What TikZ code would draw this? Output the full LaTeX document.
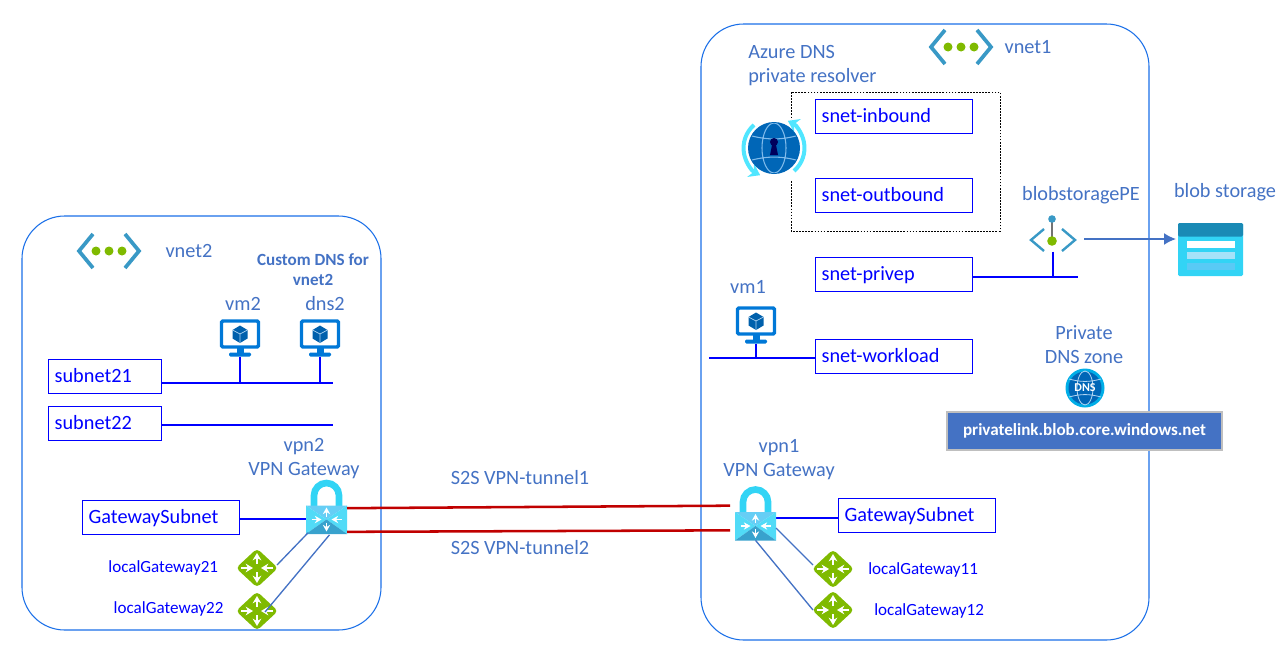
\documentclass[tikz,border=0pt]{standalone}
\usepackage{fontspec}
\setmainfont{Carlito}
\usetikzlibrary{arrows.meta,calc,positioning}
\definecolor{txtblue}{HTML}{4472C4}
\definecolor{netblue}{HTML}{1A6FE8}
\definecolor{subblue}{HTML}{0000FF}
\definecolor{tunred}{HTML}{C00000}
\definecolor{vnetcyan}{HTML}{3999C6}
\definecolor{leaf}{HTML}{7FBA00}
\definecolor{vmblue}{HTML}{0078D7}
\definecolor{sky}{HTML}{32D4F5}
\definecolor{skylight}{HTML}{50E6FF}
\definecolor{blobtop}{HTML}{1A8AB5}

\tikzset{
  pics/vneticon/.style={code={
    \draw[vnetcyan, line width=2.8pt] (-16,-17) -- (-30,0) -- (-16,17);
    \draw[vnetcyan, line width=2.8pt] (16,-17) -- (30,0) -- (16,17);
    \foreach \dx in {-13,0,13} \fill[leaf] (\dx,0) circle (4.5);
  }},
  pics/vmicon/.style={code={
    \draw[vmblue, line width=2.6pt, rounded corners=1pt] (-18.5,-17) rectangle (18.5,9);
    \fill[vmblue] (-3.5,10) rectangle (3.5,15);
    \fill[vmblue, rounded corners=1pt] (-11,14.5) rectangle (11,18.5);
    \fill[vmblue!80!black] (0,-12.5) -- (7.5,-8) -- (7.5,0.5) -- (0,5) -- (-7.5,0.5) -- (-7.5,-8) -- cycle;
    \draw[white!70!vmblue, line width=0.5pt] (-7.5,-8) -- (0,-4) -- (7.5,-8) (0,-4) -- (0,5);
  }},
  pics/lockicon/.style={code={
    \draw[sky, line width=5pt] (-12.5,-13) -- (-12.5,-24) arc[start angle=180, end angle=360, radius=12.5] -- (12.5,-13);
    \fill[cyan!60!white] (-20.5,-14) -- (20.5,-14) -- (0,0) -- cycle;
    \fill[sky!85!white] (-20.5,-14) -- (0,0) -- (-20.5,14.5) -- cycle;
    \fill[sky!85!white] (20.5,-14) -- (0,0) -- (20.5,14.5) -- cycle;
    \fill[vnetcyan!85!sky] (-20.5,14.5) -- (0,0) -- (20.5,14.5) -- cycle;
    \draw[white, line width=1.3pt, -{Stealth[length=5pt,width=5.5pt]}] (0,-3) -- (0,-12);
    \draw[white, line width=1.3pt, -{Stealth[length=5pt,width=5.5pt]}] (0,3) -- (0,12);
    \draw[white, line width=1.3pt, -{Stealth[length=5pt,width=5.5pt]}] (-15,0) -- (-5,0);
    \draw[white, line width=1.3pt, -{Stealth[length=5pt,width=5.5pt]}] (15,0) -- (5,0);
  }},
  pics/routericon/.style={code={
    \fill[leaf, rounded corners=3pt] (0,-19.5) -- (21,0) -- (0,19.5) -- (-21,0) -- cycle;
    \draw[white, line width=1.4pt, -{Stealth[length=5.5pt,width=6.5pt]}] (0,-4) -- (0,-15);
    \draw[white, line width=1.4pt, -{Stealth[length=5.5pt,width=6.5pt]}] (0,4) -- (0,15);
    \draw[white, line width=1.4pt, -{Stealth[length=5.5pt,width=6.5pt]}] (-16,0) -- (-4,0);
    \draw[white, line width=1.4pt, -{Stealth[length=5.5pt,width=6.5pt]}] (16,0) -- (4,0);
  }},
  pics/resolvericon/.style={code={
    \fill[white] (10,-28) rectangle (24,32);
    \draw[skylight, line width=3pt, -{Stealth[length=8pt,width=11pt]}] (-20,-23) arc[start angle=229, end angle=117, radius=30.5];
    \draw[skylight, line width=3pt, -{Stealth[length=8pt,width=11pt]}] (20,23) arc[start angle=49, end angle=-63, radius=30.5];
    \fill[vmblue!85!black] (0,0) circle (26);
    \begin{scope}
      \clip (0,0) circle (25);
      \draw[vmblue!50!white, line width=0.8pt] (0,0) ellipse (12 and 25) (-26,-13) to[bend right=15] (26,-13) (-26,13) to[bend left=15] (26,13);
    \end{scope}
    \fill[black!40!blue!60!black] (0,-6) circle (4);
    \fill[black!40!blue!60!black] (-1.8,-4) -- (1.8,-4) -- (4,7) -- (-4,7) -- cycle;
  }},
  pics/dnsicon/.style={code={
    \fill[vmblue!60!cyan] (0,0) circle (19.5);
    \fill[vmblue!85!black] (0,0) circle (16.5);
    \draw[white!70!vmblue, line width=0.6pt] (0,0) ellipse (8 and 17) (-16,-9) to[bend right=15] (16,-9) (-16,9) to[bend left=15] (16,9);
  }},
  pics/blobicon/.style={code={
    \fill[sky, rounded corners=1pt] (-32.5,-26.5) rectangle (32.5,26.5);
    \fill[blobtop, rounded corners=1pt] (-32.5,-26.5) rectangle (32.5,-13);
    \fill[white] (-24,-9) rectangle (24.5,-2);
    \fill[cyan!35!white] (-24,2) rectangle (24.5,9);
    \fill[cyan!65!white] (-24,13) rectangle (24.5,20);
  }},
}

\begin{document}
\begin{tikzpicture}[x=0.75pt, y=-0.75pt, font=\fontsize{15.2}{18}\selectfont,
  vnetbox/.style={draw=netblue, line width=0.8pt, rounded corners=32pt},
  box/.style={draw=subblue, line width=0.75pt, text=subblue, outer sep=0pt, inner sep=5pt, inner ysep=0pt, align=left,
    minimum height=25.5pt, text height=11pt, text depth=2pt, text width=#1},
  box/.default=107.75pt,
  lab/.style={text=txtblue, align=center, inner sep=0pt, font=\fontsize{15.2}{18}\selectfont},
  gwlab/.style={text=subblue, inner sep=0pt, font=\fontsize{12.8}{14}\selectfont},
  bus/.style={draw=subblue, line width=1pt},
  link/.style={draw=txtblue, line width=1pt},
  tunnel/.style={draw=tunred, line width=1.9pt},
  lockspot/.style={minimum width=30.75pt, minimum height=21.5pt, inner sep=0pt, outer sep=0pt},
  routerspot/.style={minimum width=30pt, minimum height=27pt, inner sep=0pt, outer sep=0pt},
  vmspot/.style={minimum width=30pt, minimum height=27.75pt, inner sep=0pt, outer sep=0pt}]

\useasboundingbox (0,0) rectangle (1285,650);

% vnets
\draw[vnetbox] (22,216) rectangle (381,630);
\draw[vnetbox] (701,24) rectangle (1149,640);
\pic at (109,251) {vneticon};
\pic at (961,47) {vneticon};
\node[lab] (vnet2) at (189,251) {vnet2};
\node[lab] (vnet1) at (1028,47) {vnet1};

% resolver
\draw[dash pattern=on 1.3pt off 1pt, line width=0.7pt] (791,92) rectangle (1000,231);
\node[lab, align=left, anchor=west] (resolver) at (748,65.5) {Azure DNS\\private resolver};
\pic at (774,148) {resolvericon};

% Subnet vnet1
\node[box] (inbound) at (893.5,116) {snet-inbound};
\node[box, below=33.75pt of inbound] (outbound) {snet-outbound};
\node[box, below=33.75pt of outbound] (privep) {snet-privep};
\node[box, below=36pt of privep] (workload) {snet-workload};

% Private endpoint
\coordinate (bus1) at (1078,277);
\node[minimum width=33pt, minimum height=19pt, inner sep=0pt, outer sep=0pt] (pe) at (1052,240) {};
\draw[vnetcyan, line width=1.8pt] (1044,229) -- (1031,240) -- (1044,251);
\draw[vnetcyan, line width=1.8pt] (1062,229) -- (1075,240) -- (1062,251);
\draw[black!55, line width=1.3pt] (1052,219) -- (1052,241);
\fill[vnetcyan] (1052,219) circle (3.8);
\fill[leaf] (1052,241) circle (4.8);
\draw[bus] (privep.east |- bus1) -- (bus1);
\draw[bus] (pe.south -| 1053,0) ++(0,-1) -- (bus1 -| 1053,0);
\node[lab] (pelab) at (1081,195) {blobstoragePE};
\node[lab] (bloblab) at (1225,192) {blob storage};
\node[minimum width=48.75pt, minimum height=39.75pt, inner sep=0pt, outer sep=0pt] (blob) at (1210.5,249.5) {};
\pic at (blob) {blobicon};
\draw[-{Latex[length=9pt,width=9pt]}, draw=txtblue, fill=txtblue, line width=1.3pt] (pe.east) ++(10,-1) -- ($(blob.west |- pe)+(-2,-1)$);

% vm1
\coordinate (bus2) at (709,358);
\node[lab] (vm1lab) at (748,287) {vm1};
\node[vmspot] (vm1) at (756,325) {};
\pic at (vm1) {vmicon};
\draw[bus] (bus2) -- (bus2 -| workload.west);
\draw[bus] (vm1.south) -- (vm1 |- bus2);

% Private DNS zone
\node[lab] (dnslab) at (1084,345) {Private\\DNS zone};
\pic at (1085,388) {dnsicon};
\node[text=white, inner sep=0pt, font=\fontsize{9}{10}\bfseries\selectfont] (dnstxt) at (1085,388) {DNS};
\node[fill=txtblue, draw=black!25, line width=0.8pt, text=white, minimum width=206.25pt, minimum height=28.5pt, inner sep=0pt,
  font=\fontsize{12.8}{14}\bfseries\selectfont] (zone) at (1084.5,431) {\raisebox{-1pt}{privatelink.blob.core.windows.net}};

% vnet2
\node[lab, font=\fontsize{12.8}{15}\bfseries\selectfont] (custom) at (313,270) {Custom DNS for\\vnet2};
\node[lab] (vm2lab) at (243,304) {vm2};
\node[lab] (dns2lab) at (325,304) {dns2};
\node[vmspot] (vm2) at (240,338) {};
\node[vmspot] (dns2) at (320,338) {};
\pic at (vm2) {vmicon};
\pic at (dns2) {vmicon};
\node[box=74.75pt] (subnet21) at (104.5,376) {subnet21};
\node[box=74.75pt, below=9.75pt of subnet21] (subnet22) {subnet22};
\coordinate (bus21) at (333,383);
\coordinate (bus22) at (333,425);
\draw[bus] (bus21 -| subnet21.east) -- (bus21);
\draw[bus] (bus22 -| subnet22.east) -- (bus22);
\draw[bus] (vm2.south) -- (vm2 |- bus21);
\draw[bus] (dns2.south) -- (dns2 |- bus21);

% Gateway vnet2
\node[lab] (vpn2lab) at (304,459) {vpn2\\VPN Gateway};
\node[box] (gw2) at (160.5,517.5) {GatewaySubnet};
\node[lockspot] (vpn2) at (326.5,519.5) {};
\node[routerspot] (lg21) at (257,568) {};
\node[routerspot] (lg22) at (257,611) {};
\node[gwlab, left=14pt of lg21] (lg21lab) {localGateway21};
\node[gwlab, left=10pt of lg22, yshift=1.5pt] (lg22lab) {localGateway22};
\pic at (lg21) {routericon};
\pic at (lg22) {routericon};
\draw[bus] (gw2.east) ++(0,1.5) -- (vpn2.west |- 0,519);
\pic at (vpn2) {lockicon};
\draw[link] ($(vpn2.south west)+(2,-1)$) -- ($(lg21.east)+(0,-3)$);
\draw[link] ($(vpn2.south)+(3,1)$) -- ($(lg22.center)+(8,1)$);

% Gateway vnet1
\node[lab] (vpn1lab) at (779,460) {vpn1\\VPN Gateway};
\node[lockspot] (vpn1) at (755.5,526) {};
\node[box] (gw1) at (916.5,515.5) {GatewaySubnet};
\node[routerspot] (lg11) at (833,569) {};
\node[routerspot] (lg12) at (833,610) {};
\node[gwlab, right=11.25pt of lg11, yshift=-0.75pt] (lg11lab) {localGateway11};
\node[gwlab, right=15.75pt of lg12, yshift=-0.75pt] (lg12lab) {localGateway12};
\pic at (lg11) {routericon};
\pic at (lg12) {routericon};
\draw[bus] (vpn1.east |- 0,518) -- (gw1.west |- 0,518);
\pic at (vpn1) {lockicon};
\draw[link] ($(vpn1.east)+(0,2)$) -- ($(lg11.west)+(0,-4)$);
\draw[link] (vpn1.south) -- (lg12.west);

% Tunnel
\draw[tunnel] ($(vpn2.north east)+(0,3)$) -- ($(vpn1.north west)+(-5,-6)$);
\draw[tunnel] ($(vpn2.south east)+(0,-2)$) -- ($(vpn1.south west)+(-5,-10)$);
\node[lab] (tun1) at (520,478) {S2S VPN-tunnel1};
\node[lab] (tun2) at (520,548) {S2S VPN-tunnel2};

\end{tikzpicture}
\end{document}
